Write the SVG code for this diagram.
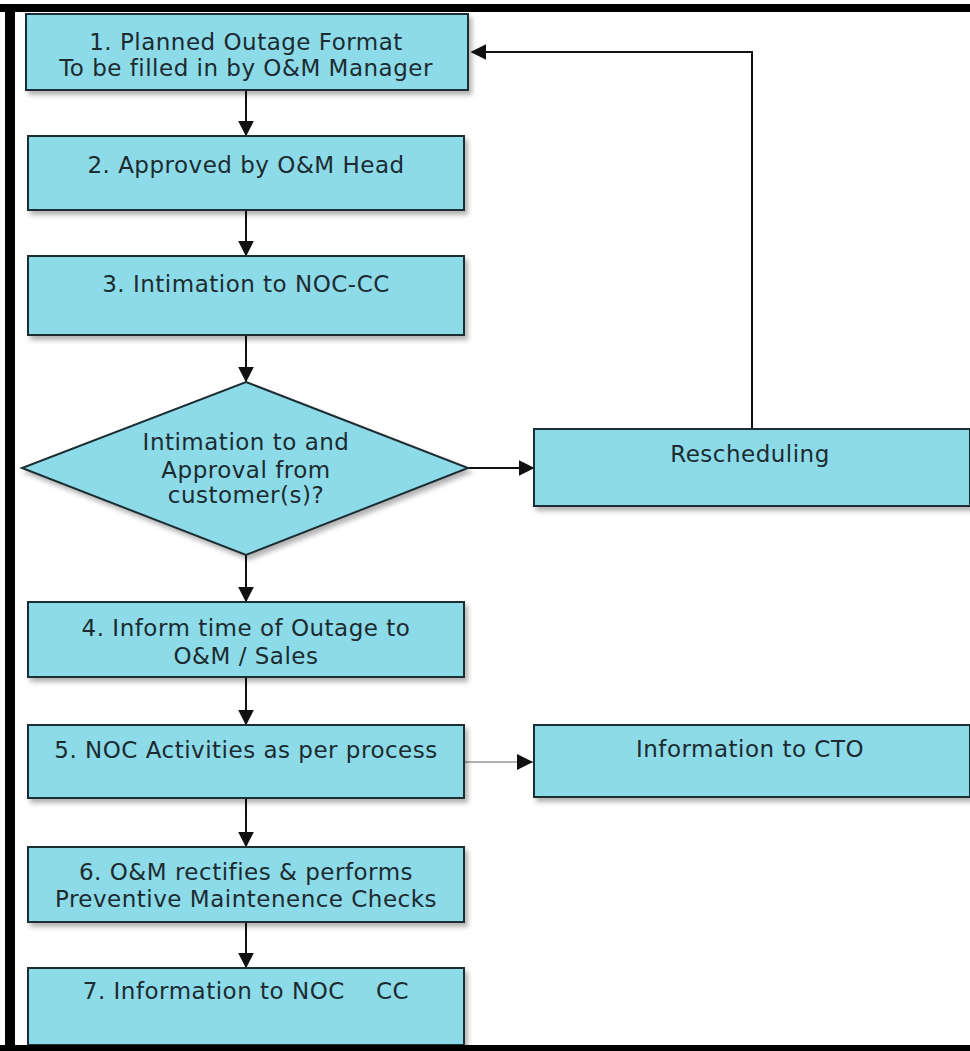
<svg xmlns="http://www.w3.org/2000/svg" width="970" height="1051" viewBox="0 0 970 1051">
<defs>
<marker id="ah2" viewBox="0 0 10 10" refX="9" refY="5" markerWidth="16" markerHeight="16" markerUnits="userSpaceOnUse" orient="auto">
<path d="M0,0 L10,5 L0,10 z" fill="#111"/>
</marker>
<filter id="sh" x="-5%" y="-10%" width="115%" height="130%">
<feDropShadow dx="3" dy="4" stdDeviation="2.5" flood-color="#000" flood-opacity="0.3"/>
</filter>
</defs>
<style>
.box{fill:#8ddbe8;stroke:#1e2d33;stroke-width:2;filter:url(#sh)}
.t{font-family:"DejaVu Sans",Verdana,sans-serif;font-size:23px;letter-spacing:0.5px;fill:#1c2b30;text-anchor:middle;white-space:pre}
.c{fill:none;stroke:#111;stroke-width:2}
.c2{fill:none;stroke:#999;stroke-width:1.5}
</style>
<rect x="0" y="0" width="970" height="1051" fill="#fff"/>

<g id="connectors">
<line class="c" x1="246" y1="90" x2="246" y2="135" marker-end="url(#ah2)"/>
<line class="c" x1="246" y1="210" x2="246" y2="255" marker-end="url(#ah2)"/>
<line class="c" x1="246" y1="335" x2="246" y2="381" marker-end="url(#ah2)"/>
<line class="c" x1="246" y1="555" x2="246" y2="601" marker-end="url(#ah2)"/>
<line class="c" x1="246" y1="677" x2="246" y2="724" marker-end="url(#ah2)"/>
<line class="c" x1="246" y1="798" x2="246" y2="846" marker-end="url(#ah2)"/>
<line class="c" x1="246" y1="922" x2="246" y2="967" marker-end="url(#ah2)"/>
<line class="c" x1="468" y1="468" x2="533" y2="468" marker-end="url(#ah2)"/>
<polyline class="c" points="752,429 752,52 472,52" marker-end="url(#ah2)"/>
<line class="c2" x1="464" y1="762" x2="533" y2="762"/>
<path d="M517,754 L533,762 L517,770 z" fill="#111"/>
</g>

<g id="n1">
<rect class="box" x="26" y="14" width="442" height="76"/>
<text class="t" x="246" y="50">1. Planned Outage Format</text>
<text class="t" x="246" y="76">To be filled in by O&amp;M Manager</text>
</g>
<g id="n2">
<rect class="box" x="28" y="136" width="436" height="74"/>
<text class="t" x="246" y="173">2. Approved by O&amp;M Head</text>
</g>
<g id="n3">
<rect class="box" x="28" y="256" width="436" height="79"/>
<text class="t" x="246" y="292">3. Intimation to NOC-CC</text>
</g>
<g id="d1">
<polygon class="box" points="246,382 468,468 246,555 22,468"/>
<text class="t" x="246" y="450">Intimation to and</text>
<text class="t" x="246" y="478">Approval from</text>
<text class="t" x="246" y="503">customer(s)?</text>
</g>
<g id="n_res">
<rect class="box" x="534" y="429" width="436" height="77"/>
<text class="t" x="750" y="462">Rescheduling</text>
</g>
<g id="n4">
<rect class="box" x="28" y="602" width="436" height="75"/>
<text class="t" x="246" y="636">4. Inform time of Outage to</text>
<text class="t" x="246" y="664">O&amp;M / Sales</text>
</g>
<g id="n5">
<rect class="box" x="28" y="725" width="436" height="73"/>
<text class="t" x="246" y="758">5. NOC Activities as per process</text>
</g>
<g id="n_cto">
<rect class="box" x="534" y="725" width="436" height="72"/>
<text class="t" x="750" y="757">Information to CTO</text>
</g>
<g id="n6">
<rect class="box" x="28" y="847" width="436" height="75"/>
<text class="t" x="246" y="880">6. O&amp;M rectifies &amp; performs</text>
<text class="t" x="246" y="907">Preventive Maintenence Checks</text>
</g>
<g id="n7">
<rect class="box" x="28" y="968" width="436" height="77"/>
<text class="t" x="246" y="999" xml:space="preserve">7. Information to NOC    CC</text>
</g>

<g id="frame" fill="#000">
<rect x="0" y="4" width="970" height="8"/>
<rect x="5" y="4" width="10" height="1047"/>
<rect x="0" y="1045" width="970" height="6"/>
</g>
</svg>
